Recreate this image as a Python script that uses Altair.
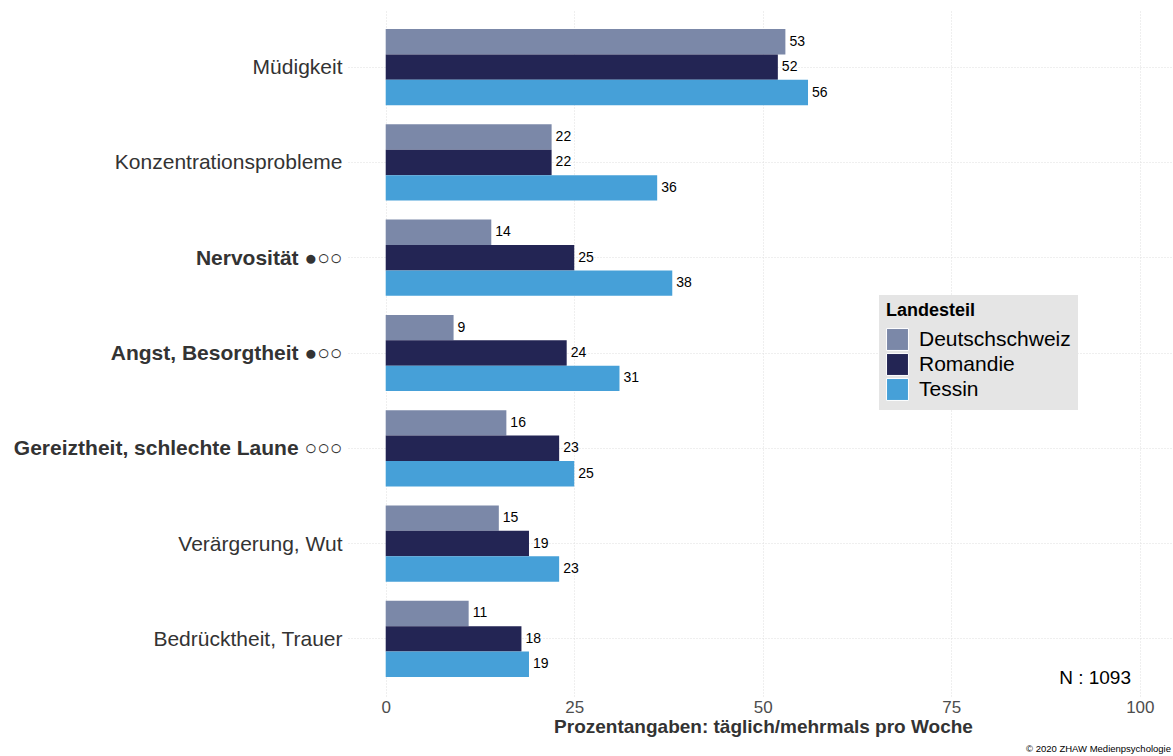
import altair as alt
import pandas as pd

categories = [
    "Müdigkeit",
    "Konzentrationsprobleme",
    "Nervosität ●○○",
    "Angst, Besorgtheit ●○○",
    "Gereiztheit, schlechte Laune ○○○",
    "Verärgerung, Wut",
    "Bedrücktheit, Trauer",
]
bold_categories = ["Nervosität ●○○", "Angst, Besorgtheit ●○○", "Gereiztheit, schlechte Laune ○○○"]
regions = ["Deutschschweiz", "Romandie", "Tessin"]
deutschschweiz = [53, 22, 14, 9, 16, 15, 11]
romandie = [52, 22, 25, 24, 23, 19, 18]
tessin = [56, 36, 38, 31, 25, 23, 19]
colors = ["#7b88a8", "#232554", "#46a0d8"]

rows = []
for i, c in enumerate(categories):
    for r, vals in zip(regions, [deutschschweiz, romandie, tessin]):
        rows.append({"Symptom": c, "Landesteil": r, "Wert": vals[i]})
df = pd.DataFrame(rows)

W, H = 825, 686
FONT = "Liberation Sans"
GRID = "#dedede"

bold_test = " || ".join([f"datum.value == '{b}'" for b in bold_categories])

y_enc = alt.Y(
    "Symptom:N",
    sort=categories,
    scale=alt.Scale(paddingInner=0.2, paddingOuter=0.2),
    axis=alt.Axis(
        title=None,
        labelFontSize=21,
        labelColor="#333333",
        labelFont=FONT,
        labelFontWeight={"condition": {"test": bold_test, "value": "bold"}, "value": "normal"},
        labelPadding=6,
        labelBaseline="middle",
        labelOffset=1,
        ticks=False,
        domain=False,
        grid=True,
        bandPosition=0.5,
        gridDash=[1, 2],
        gridColor=GRID,
        labelLimit=420,
    ),
)
x_enc = alt.X(
    "Wert:Q",
    scale=alt.Scale(domain=[-5, 104.4], nice=False, zero=True),
    axis=alt.Axis(
        title="Prozentangaben: täglich/mehrmals pro Woche",
        titleFontSize=19,
        titleFont=FONT,
        titleFontWeight="bold",
        titleColor="#333333",
        titlePadding=2,
        titleX=415,
        titleAnchor="middle",
        values=[0, 25, 50, 75, 100],
        labelFontSize=17,
        labelFont=FONT,
        labelColor="#4d4d4d",
        labelPadding=3,
        labelFlush=False,
        ticks=False,
        domain=False,
        grid=True,
        gridDash=[1, 2],
        gridColor=GRID,
    ),
)

bars = alt.Chart(df).mark_bar().encode(
    y=y_enc,
    x=x_enc,
    yOffset=alt.YOffset("Landesteil:N", sort=regions),
    color=alt.Color(
        "Landesteil:N",
        sort=regions,
        scale=alt.Scale(domain=regions, range=colors),
        legend=alt.Legend(
            title="Landesteil",
            orient="none",
            legendX=531,
            legendY=285,
            fillColor="#e5e5e5",
            padding=7,
            titleFontSize=18,
            titleFont=FONT,
            titleFontWeight="bold",
            titleColor="#000000",
            titlePadding=8,
            labelFontSize=21,
            labelFont=FONT,
            labelColor="#000000",
            symbolType="square",
            symbolSize=480,
            symbolStrokeColor="white",
            symbolStrokeWidth=1,
            symbolOpacity=1,
            rowPadding=-3,
            labelOffset=10,
        ),
    ),
)

labels = alt.Chart(df).mark_text(align="left", baseline="middle", dx=4, fontSize=14, font=FONT, color="#000000").encode(
    y=alt.Y("Symptom:N", sort=categories),
    x="Wert:Q",
    yOffset=alt.YOffset("Landesteil:N", sort=regions),
    text="Wert:Q",
)

n_df = pd.DataFrame({"t": ["N : 1093"]})
ntext = alt.Chart(n_df).mark_text(align="right", baseline="middle", fontSize=19, font=FONT, color="#000000").encode(
    x=alt.value(783), y=alt.value(668), text="t:N"
)
copy_text = alt.Chart(pd.DataFrame({"t": ["© 2020 ZHAW Medienpsychologie"]})).mark_text(
    align="right", baseline="middle", fontSize=9.5, font=FONT, color="#000000"
).encode(x=alt.value(823), y=alt.value(739), text="t:N")

chart = (
    alt.layer(bars, labels, ntext, copy_text)
    .properties(
        width=W,
        height=H,
        background="white",
        autosize=alt.AutoSizeParams(type="none"),
        padding={"left": 348, "top": 10, "right": 0, "bottom": 60},
    )
    .configure_view(stroke="transparent", strokeWidth=0)
)

chart.save("out.html", embed_options={"renderer": "svg", "actions": False})
